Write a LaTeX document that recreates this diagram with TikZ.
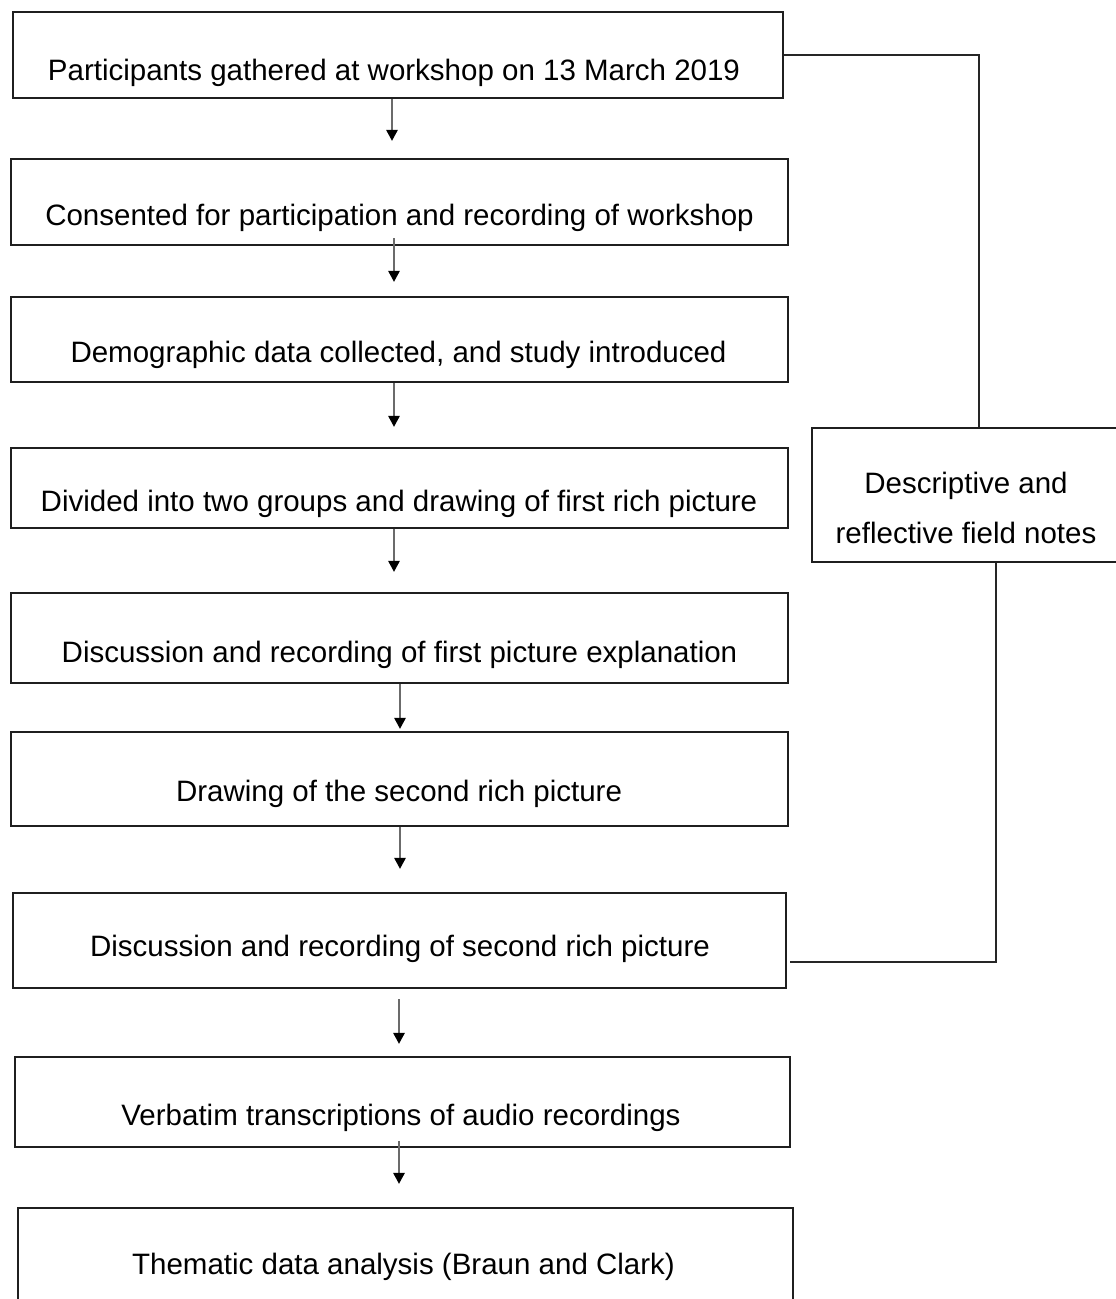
\documentclass[tikz,border=0pt]{standalone}
\usepackage{fontspec}
\setmainfont{Liberation Sans}
\usetikzlibrary{arrows.meta}
\begin{document}
\begin{tikzpicture}[x=1pt,y=-1pt,
  stepbox/.style={draw=black!88, line width=2.1pt, inner sep=0pt},
  steptext/.style={anchor=base, inner sep=0pt, font=\fontsize{29.5}{50}\selectfont},
  flow/.style={draw=black!58, line width=2.6pt,
    -{Triangle[length=11pt,width=11pt,color=black]}},
  link/.style={draw=black!85, line width=2.1pt}]
\useasboundingbox (0,0) rectangle (1116,1299);

% process steps
\node[stepbox, minimum width=770pt, minimum height=86pt] (b1) at (398,55) {};
\node[stepbox, minimum width=777pt, minimum height=86pt] (b2) at (399.5,202) {};
\node[stepbox, minimum width=777pt, minimum height=85pt] (b3) at (399.5,339.5) {};
\node[stepbox, minimum width=777pt, minimum height=80pt] (b4) at (399.5,488) {};
\node[stepbox, minimum width=777pt, minimum height=90pt] (b5) at (399.5,638) {};
\node[stepbox, minimum width=777pt, minimum height=94pt] (b6) at (399.5,779) {};
\node[stepbox, minimum width=773pt, minimum height=95pt] (b7) at (399.5,940.5) {};
\node[stepbox, minimum width=775pt, minimum height=90pt] (b8) at (402.5,1102) {};
\node[stepbox, minimum width=775pt, minimum height=122pt] (b9) at (405.5,1269) {};

% field notes box
\node[stepbox, minimum width=308pt, minimum height=134pt] (notes) at (966,495) {};

% step labels
\node[steptext] (t1) at (394,80) {Participants gathered at workshop on 13 March 2019};
\node[steptext] (t2) at (399.5,225) {Consented for participation and recording of workshop};
\node[steptext] (t3) at (398.5,362) {Demographic data collected, and study introduced};
\node[steptext] (t4) at (399,511) {Divided into two groups and drawing of first rich picture};
\node[steptext] (t5) at (399.5,662) {Discussion and recording of first picture explanation};
\node[steptext] (t6) at (399,801) {Drawing of the second rich picture};
\node[steptext] (t7) at (400,956) {Discussion and recording of second rich picture};
\node[steptext] (t8) at (401,1125) {Verbatim transcriptions of audio recordings};
\node[steptext] (t9) at (403.5,1274) {Thematic data analysis (Braun and Clark)};
\node[steptext] (n1) at (966,493) {Descriptive and};
\node[steptext] (n2) at (966,543) {reflective field notes};

% flow arrows
\draw[flow, shorten >=17pt] (b1.south -| 392,0) -- (b2.north -| 392,0);
\draw[flow, shorten <=-8pt, shorten >=14pt] (b2.south -| 394,0) -- (b3.north -| 394,0);
\draw[flow, shorten >=20pt] (b3.south -| 394,0) -- (b4.north -| 394,0);
\draw[flow, shorten >=20pt] (b4.south -| 394,0) -- (b5.north -| 394,0);
\draw[flow, shorten >=2pt] (b5.south -| 400,0) -- (b6.north -| 400,0);
\draw[flow, shorten >=23pt] (b6.south -| 400,0) -- (b7.north -| 400,0);
\draw[flow, shorten <=10pt, shorten >=12pt] (b7.south -| 399,0) -- (b8.north -| 399,0);
\draw[flow, shorten <=-7pt, shorten >=23pt] (b8.south -| 399,0) -- (b9.north -| 399,0);

% links to the field notes
\draw[link] (b1.east) -| ([xshift=13pt]notes.north);
\draw[link, shorten >=3pt] ([xshift=30pt]notes.south) |- ([yshift=-21.5pt]b7.east);
\end{tikzpicture}
\end{document}
